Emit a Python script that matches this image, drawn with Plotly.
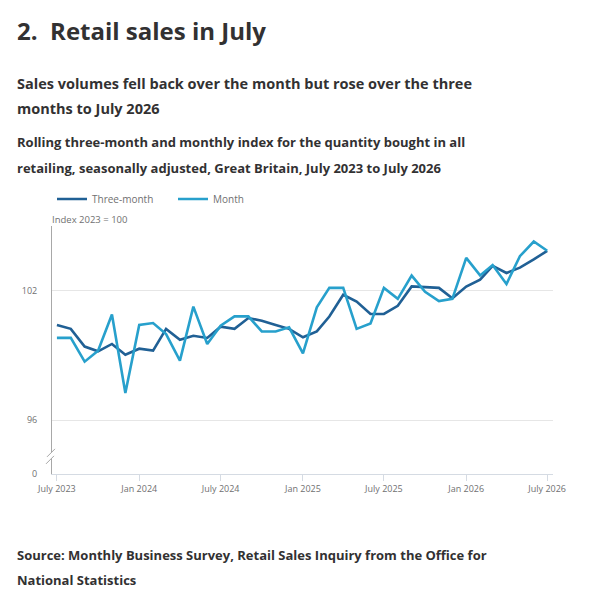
import pandas as pd
import plotly.graph_objects as go

# Monthly dates, July 2023 to July 2026
MONTHS = pd.date_range("2023-07-01", "2026-07-01", freq="MS")

# Index 2023 = 100
THREE_MONTH = [100.41, 100.23, 99.41, 99.19, 99.53, 99.03, 99.31, 99.22, 100.23, 99.72,
               99.91, 99.81, 100.33, 100.23, 100.73, 100.61, 100.41, 100.23, 99.84, 100.11,
               100.80, 101.81, 101.50, 100.92, 100.92, 101.30, 102.20, 102.15, 102.13, 101.65,
               102.19, 102.51, 103.15, 102.82, 103.07, 103.45, 103.85]
MONTH = [99.81, 99.81, 98.71, 99.22, 100.90, 97.26, 100.41, 100.50, 99.99, 98.76,
         101.26, 99.53, 100.38, 100.81, 100.81, 100.11, 100.11, 100.30, 99.09, 101.23,
         102.13, 102.13, 100.23, 100.48, 102.13, 101.62, 102.70, 101.95, 101.52, 101.62,
         103.52, 102.71, 103.19, 102.31, 103.60, 104.28, 103.85]

X_TICKS = ["2023-07-01", "2024-01-01", "2024-07-01", "2025-01-01",
           "2025-07-01", "2026-01-01", "2026-07-01"]
X_LABELS = ["July 2023", "Jan 2024", "July 2024", "Jan 2025",
            "July 2025", "Jan 2026", "July 2026"]
# axis is broken: the bottom of the range is labelled 0
Y_TICKS = [93.5, 96, 102]
Y_LABELS = ["0", "96", "102"]

DARK = "#206095"
LIGHT = "#27a0cc"
TEXT = "#323132"
GREY = "#707071"
FONT = "Open Sans"

fig = go.Figure()
fig.add_trace(go.Scatter(x=MONTHS, y=THREE_MONTH, name="Three-month", mode="lines",
                         line=dict(color=DARK, width=2.6)))
fig.add_trace(go.Scatter(x=MONTHS, y=MONTH, name="Month", mode="lines",
                         line=dict(color=LIGHT, width=2.6)))

fig.update_layout(
    width=600, height=589,
    margin=dict(l=52, r=47, t=226, b=115),
    paper_bgcolor="white", plot_bgcolor="white",
    font=dict(family=FONT, color=GREY, size=10),
    showlegend=True,
    legend=dict(orientation="h", x=0.0, xanchor="left", y=1.109, yanchor="middle",
                font=dict(size=10, color=GREY), entrywidth=76, tracegroupgap=0,
                bgcolor="rgba(0,0,0,0)"),
)

fig.update_xaxes(
    range=["2023-06-20", "2026-07-14"],
    tickvals=X_TICKS, ticktext=X_LABELS,
    tickfont=dict(size=9, color=GREY),
    showgrid=False, zeroline=False,
    showline=True, linecolor="#d5dbe3", linewidth=1,
    ticks="outside", ticklen=6, tickcolor="#d5dbe3",
    fixedrange=True,
)
fig.update_yaxes(
    range=[93.5, 105],
    tickvals=Y_TICKS, ticktext=Y_LABELS,
    tickfont=dict(size=9, color=GREY),
    showgrid=True, gridcolor="#e6e6e6", gridwidth=1,
    zeroline=False,
    showline=True, linecolor="#a8a8a8", linewidth=1,
    ticks="", ticklabelstandoff=12,
    fixedrange=True,
)

# axis break mark "//" near the bottom of the y axis
fig.add_shape(type="path", xref="paper", yref="paper", xsizemode="pixel", ysizemode="pixel",
              xanchor=0, yanchor=0.069,
              path="M -5,0 L 3,8 L 2,1 L -6,-7 Z",
              fillcolor="white", line=dict(width=0), layer="above")
fig.add_shape(type="path", xref="paper", yref="paper", xsizemode="pixel", ysizemode="pixel",
              xanchor=0, yanchor=0.069, path="M -5,0 L 3,8",
              line=dict(color="#a8a8a8", width=1), layer="above")
fig.add_shape(type="path", xref="paper", yref="paper", xsizemode="pixel", ysizemode="pixel",
              xanchor=0, yanchor=0.069, path="M -6,-7 L 2,1",
              line=dict(color="#a8a8a8", width=1), layer="above")

def text(s, x, y, size, bold=True, color=TEXT):
    fig.add_annotation(text=f"<b>{s}</b>" if bold else s, xref="paper", yref="paper",
                       x=x, y=y, xanchor="left", yanchor="middle", showarrow=False,
                       font=dict(family=FONT, size=size, color=color), align="left")

X0 = -37 / 501
text("2.\u00a0 Retail sales in July", X0, 1.790, 24)
text("Sales volumes fell back over the month but rose over the three", X0, 1.5766, 14.5)
text("months to July 2026", X0, 1.4758, 14.5)
text("Rolling three-month and monthly index for the quantity bought in all", X0, 1.3387, 13)
text("retailing, seasonally adjusted, Great Britain, July 2023 to July 2026", X0, 1.2339, 13)
text("Index 2023 = 100", -0.003, 1.027, 9.5, bold=False, color=GREY)
text("Source: Monthly Business Survey, Retail Sales Inquiry from the Office for", X0, -0.3266, 13)
text("National Statistics", X0, -0.4274, 13)

fig.write_html("out.html", config={"displayModeBar": False},
               post_script="document.body.style.margin='0';")
